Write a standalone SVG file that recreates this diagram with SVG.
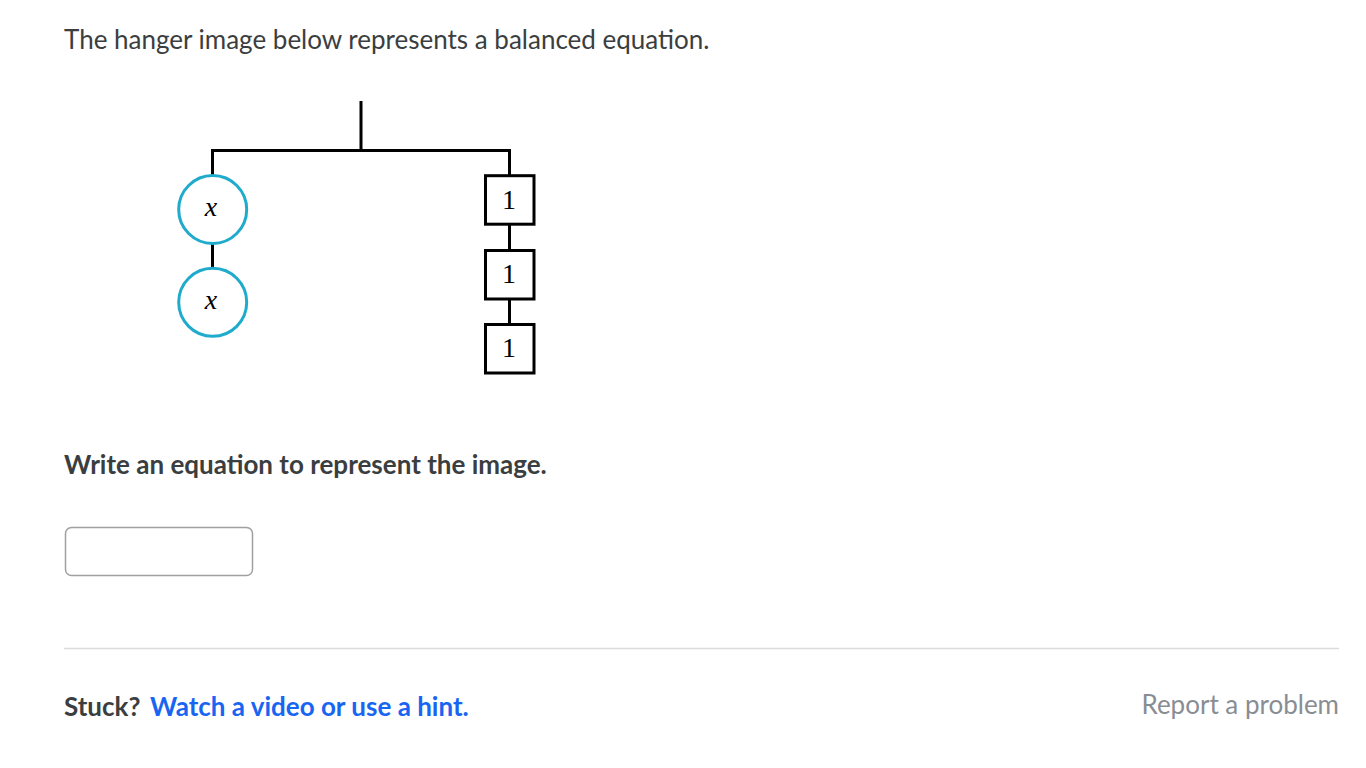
<svg xmlns="http://www.w3.org/2000/svg" width="1366" height="768" viewBox="0 0 1366 768">
<style>
.t{font-family:Lato,"Open Sans",sans-serif;fill:#3b3e40}
.w{stroke:#000;stroke-width:3;fill:none}
.c{stroke:#1fabcb;stroke-width:3;fill:#fff}
.b{stroke:#000;stroke-width:3;fill:#fff}
.m{font-family:"Liberation Serif","DejaVu Serif",serif;font-size:28px;fill:#000;text-anchor:middle}
</style>
<rect width="1366" height="768" fill="#fff"/>
<text class="t" x="64" y="49" font-size="26">The hanger image below represents a balanced equation.</text>
<g id="connectors">
<path class="w" d="M361 101V150.5M212.5 150.5H509.5M212.5 149V176M212.5 243V268M509.5 149V176M509.5 224V250M509.5 299V324"/>
</g>
<g id="x1"><circle class="c" cx="212.7" cy="209.5" r="34"/><text class="m" x="211" y="216" font-style="italic">x</text></g>
<g id="x2"><circle class="c" cx="212.7" cy="302.3" r="34"/><text class="m" x="211" y="309" font-style="italic">x</text></g>
<g id="one1"><rect class="b" x="485.5" y="175.7" width="48.5" height="48.5"/><text class="m" x="509" y="208.5">1</text></g>
<g id="one2"><rect class="b" x="485.5" y="250.5" width="48.5" height="48.5"/><text class="m" x="509" y="282.5">1</text></g>
<g id="one3"><rect class="b" x="485.5" y="324.5" width="48.5" height="48.5"/><text class="m" x="509" y="356.5">1</text></g>
<text class="t" x="64" y="474" font-size="26" font-weight="bold">Write an equation to represent the image.</text>
<rect x="65.5" y="527.5" width="187" height="48" rx="6" fill="#fff" stroke="#a0a0a0" stroke-width="1.5"/>
<line x1="64" y1="648.5" x2="1339" y2="648.5" stroke="#dcdcdc" stroke-width="1.5"/>
<text class="t" x="64" y="716" font-size="26" font-weight="bold">Stuck?</text>
<text x="150" y="716" font-size="26" font-weight="bold" font-family="Lato,sans-serif" fill="#1865f2">Watch a video or use a hint.</text>
<text x="1339" y="714" font-size="26" font-family="Lato,sans-serif" fill="#888d93" text-anchor="end">Report a problem</text>
</svg>
